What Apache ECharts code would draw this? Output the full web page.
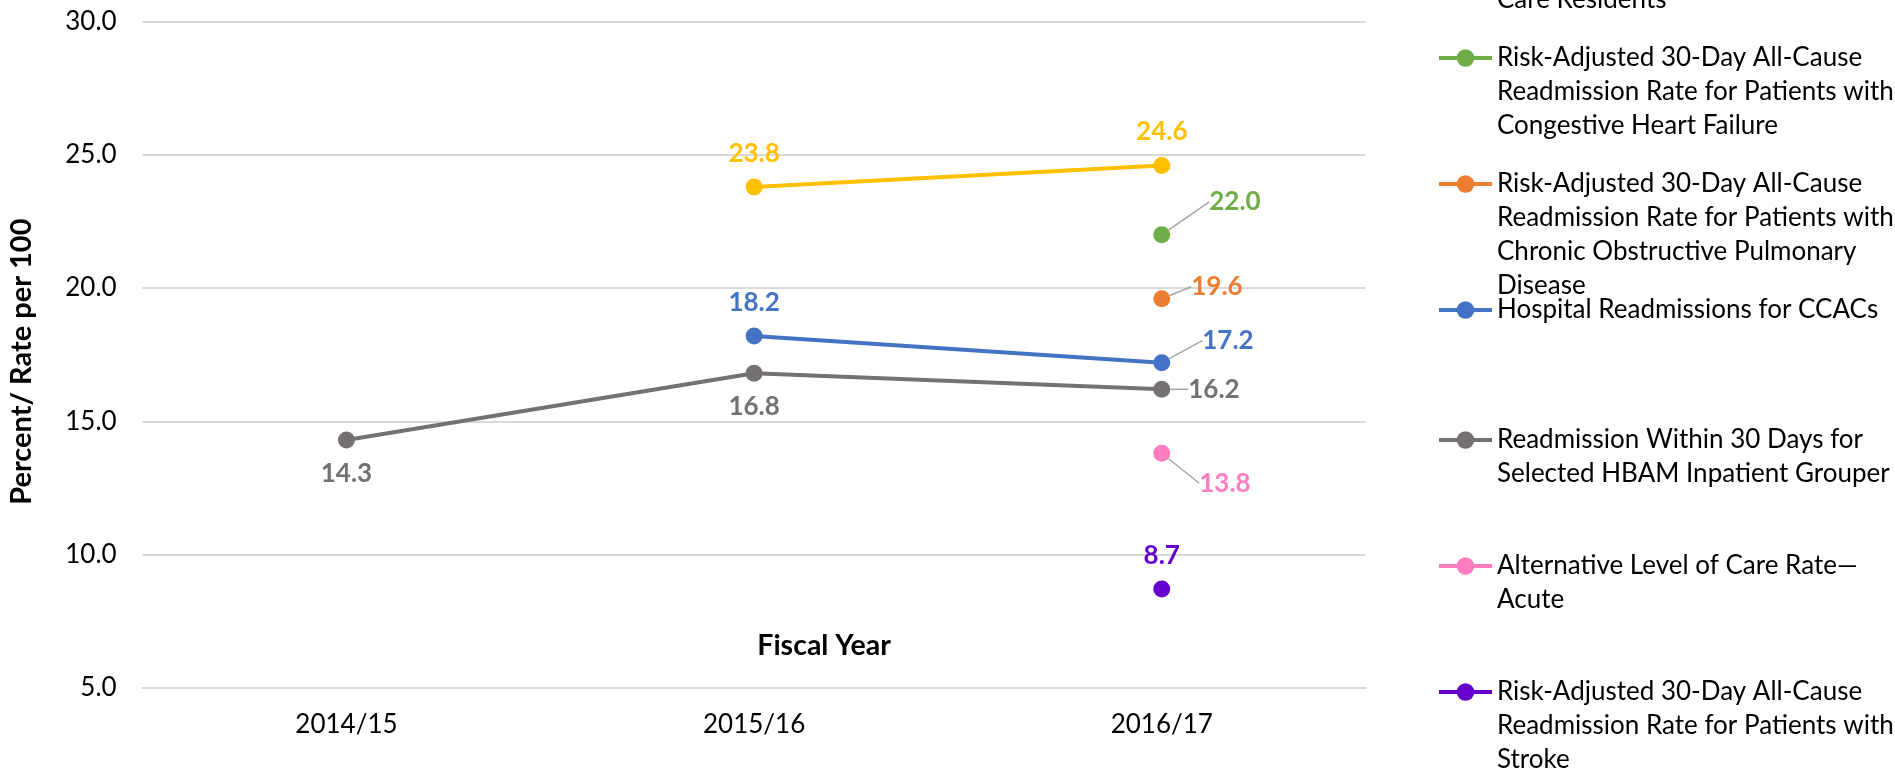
<!DOCTYPE html>
<html>
<head>
<meta charset="utf-8">
<script src="https://cdn.jsdelivr.net/npm/echarts@6/dist/echarts.min.js"></script>
<style>
  html, body { margin: 0; padding: 0; background: #fff; }
  #chart { width: 1895px; height: 776px; }
</style>
</head>
<body>
<div id="chart"></div>
<script>
// fiscal years on the x axis
const categories = ['2014/15', '2015/16', '2016/17'];

// indicator values (percent / rate per 100), null = not reported
const ltcEdVisits   = [null, 23.8, 24.6];
const chfReadmit    = [null, null, 22.0];
const copdReadmit   = [null, null, 19.6];
const ccacReadmit   = [null, 18.2, 17.2];
const hbamReadmit   = [14.3, 16.8, 16.2];
const alcRate       = [null, null, 13.8];
const strokeReadmit = [null, null, 8.7];

const yTicks = [5, 30, 5]; // min, max, step

const FONT = 'Lato';

// name, values, colour, label placement per point ([dx,dy] = moved with a leader line), legend icon y
const seriesDefs = [
  { name: 'Potentially Avoidable Emergency\nDepartment Visits for Long-Term\nCare Residents', values: ltcEdVisits, color: '#FFC000', places: [null, 'top', 'top'], iconY: -68 },
  { name: 'Risk-Adjusted 30-Day All-Cause\nReadmission Rate for Patients with\nCongestive Heart Failure', values: chfReadmit, color: '#70AD47', places: [null, null, [27, -33]], iconY: 58 },
  { name: 'Risk-Adjusted 30-Day All-Cause\nReadmission Rate for Patients with\nChronic Obstructive Pulmonary\nDisease', values: copdReadmit, color: '#ED7D31', places: [null, null, [9, -12]], iconY: 184 },
  { name: 'Hospital Readmissions for CCACs', values: ccacReadmit, color: '#4472C4', places: [null, 'top', [20, -22]], iconY: 310 },
  { name: 'Readmission Within 30 Days for\nSelected HBAM Inpatient Grouper', values: hbamReadmit, color: '#767171', places: ['bottom', 'bottom', [6, 0]], iconY: 440 },
  { name: 'Alternative Level of Care Rate\u2014\nAcute', values: alcRate, color: '#FF7DC0', places: [null, null, [17, 30]], iconY: 566 },
  { name: 'Risk-Adjusted 30-Day All-Cause\nReadmission Rate for Patients with\nStroke', values: strokeReadmit, color: '#6600CC', places: [null, null, 'top'], iconY: 692 }
];

const LINE_H = 34;

const series = seriesDefs.map(def => ({
  name: def.name,
  type: 'line',
  symbol: 'circle',
  symbolSize: 17,
  lineStyle: { width: 4, color: def.color },
  itemStyle: { color: def.color },
  label: {
    show: true,
    fontFamily: FONT,
    fontWeight: 'bold',
    fontSize: 26,
    color: def.color,
    distance: 12,
    formatter: p => p.value.toFixed(1)
  },
  labelLine: { lineStyle: { color: '#A6A6A6', width: 1.5 } },
  labelLayout: p => {
    const pl = def.places[p.dataIndex];
    return Array.isArray(pl) ? { dx: pl[0], dy: pl[1] } : {};
  },
  data: def.values.map((v, i) => {
    if (v == null) return null;
    const pl = def.places[i];
    const moved = Array.isArray(pl);
    return {
      value: v,
      label: { position: moved ? 'right' : pl },
      labelLine: { show: moved }
    };
  })
}));

// one legend per entry so each icon sits on the first line of its text
const legends = seriesDefs.map(def => {
  const n = def.name.split('\n').length;
  return {
    data: [def.name],
    orient: 'vertical',
    left: 1437,
    top: def.iconY - (2 * n - 1) * LINE_H / 2,
    padding: 0,
    itemWidth: 53,
    itemHeight: 22,
    selectedMode: false,
    lineStyle: { width: 4 },
    textStyle: { fontFamily: FONT, fontSize: 26, color: '#000', lineHeight: LINE_H },
    formatter: name => '\n'.repeat(n - 1) + name
  };
});

const chart = echarts.init(document.getElementById('chart'));
chart.setOption({
  animation: false,
  backgroundColor: '#fff',
  grid: { left: 142.6, right: 529.4, top: 21.75, bottom: 88.4, outerBoundsMode: 'none' },
  legend: legends,
  xAxis: {
    type: 'category',
    data: categories,
    boundaryGap: true,
    axisTick: { show: false },
    axisLine: { lineStyle: { color: '#D9D9D9', width: 2 } },
    axisLabel: { fontFamily: FONT, fontSize: 26, color: '#000', margin: 24 },
    name: 'Fiscal Year',
    nameLocation: 'middle',
    nameGap: -56,
    nameTextStyle: { fontFamily: FONT, fontWeight: 'bold', fontSize: 28.5, color: '#000', padding: [0, 0, 0, 140] }
  },
  yAxis: {
    type: 'value',
    min: yTicks[0],
    max: yTicks[1],
    interval: yTicks[2],
    axisLine: { show: false },
    axisTick: { show: false },
    splitLine: { lineStyle: { color: '#D9D9D9', width: 2 } },
    axisLabel: { fontFamily: FONT, fontSize: 26, color: '#000', margin: 26, formatter: v => v.toFixed(1) },
    name: 'Percent/ Rate per 100',
    nameLocation: 'middle',
    nameGap: 106,
    nameTextStyle: { fontFamily: FONT, fontWeight: 'bold', fontSize: 29, color: '#000', padding: [0, 14, 0, 0] }
  },
  series: series
});
</script>
</body>
</html>
